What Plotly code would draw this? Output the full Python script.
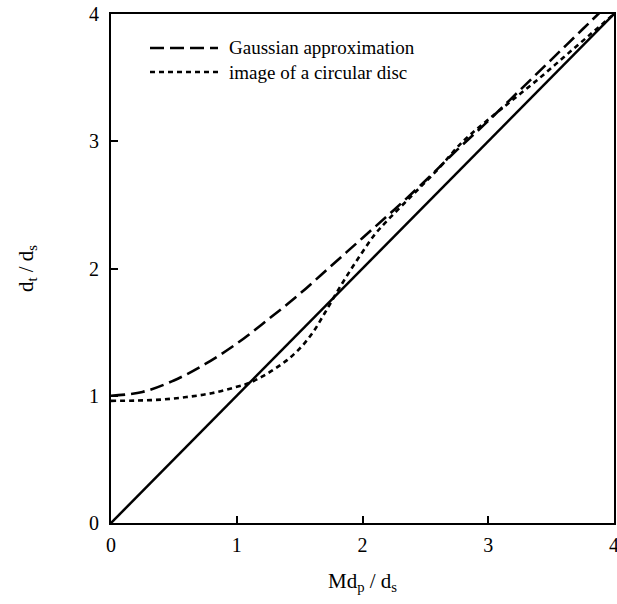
import plotly.graph_objects as go

# Data
x_line = [0, 4]
y_line = [0, 4]

x_gauss = [0, 0.25, 0.5, 0.75, 1.0, 1.25, 1.5, 1.75, 2.0, 2.25, 2.5, 2.75, 3.0, 3.25, 3.5, 3.75, 4.0]
y_gauss = [1.00, 1.03, 1.12, 1.25, 1.41, 1.60, 1.80, 2.02, 2.24, 2.46, 2.69, 2.93, 3.16, 3.40, 3.64, 3.88, 4.12]

x_disc = [0, 0.2, 0.4, 0.6, 0.8, 1.0, 1.1, 1.2, 1.3, 1.4, 1.5, 1.6, 1.7, 1.8, 1.9, 2.0, 2.1, 2.2,
          2.4, 2.6, 2.8, 3.0, 3.2, 3.4, 3.6, 3.8, 4.0]
y_disc = [0.96, 0.962, 0.97, 0.99, 1.02, 1.07, 1.10, 1.15, 1.21, 1.28, 1.37, 1.49, 1.65, 1.82, 1.98,
          2.13, 2.27, 2.38, 2.58, 2.78, 3.00, 3.17, 3.33, 3.49, 3.66, 3.83, 4.00]

tick_vals = [0, 1, 2, 3, 4]
legend_labels = ["Gaussian approximation", "image of a circular disc"]

FONT = "Liberation Serif"

fig = go.Figure()
fig.add_trace(go.Scatter(x=x_line, y=y_line, mode="lines",
                         line=dict(color="black", width=2.5), showlegend=False))
fig.add_trace(go.Scatter(x=x_gauss, y=y_gauss, mode="lines", line_shape="spline",
                         line=dict(color="black", width=2.6, dash="14px,6px"), showlegend=False))
fig.add_trace(go.Scatter(x=x_disc, y=y_disc, mode="lines", line_shape="spline",
                         line=dict(color="black", width=2.6, dash="5px,4px"), showlegend=False))

# Manual legend (keys in paper coordinates)
ML, MR, MT, MB = 111, 3, 14, 81
W0, H0 = 617 - ML - MR, 604 - MT - MB
def px(xp):
    return (xp - ML) / W0
def py(yp):
    return (604 - MB - yp) / H0

dashes = ["14px,6px", "5px,4px"]
rows = [48, 72]
for lab, d, r in zip(legend_labels, dashes, rows):
    fig.add_shape(type="line", xref="paper", yref="paper",
                  x0=px(150), x1=px(218), y0=py(r), y1=py(r),
                  line=dict(color="black", width=2.6, dash=d))
    fig.add_annotation(xref="paper", yref="paper", x=px(227), y=py(r),
                       text=lab, showarrow=False, xanchor="left", yanchor="middle",
                       font=dict(family=FONT, size=19, color="black"))

axis_common = dict(range=[0, 4], tickvals=tick_vals, ticks="inside", ticklen=7,
                   tickwidth=2, tickcolor="black", showline=True, linecolor="black",
                   linewidth=2.2, mirror=True, showgrid=False, zeroline=False,
                   automargin=False, ticklabeloverflow="allow",
                   tickfont=dict(family=FONT, size=20, color="black"))

fig.update_xaxes(**axis_common, ticklabelstandoff=3,
                 title=dict(text="Md<sub>p</sub> / d<sub>s</sub>", standoff=18,
                            font=dict(family=FONT, size=21, color="black")))
fig.update_yaxes(**axis_common, ticklabelstandoff=6,
                 title=dict(text="d<sub>t</sub> / d<sub>s</sub>", standoff=50,
                            font=dict(family=FONT, size=21, color="black")))

fig.update_layout(width=617, height=604, margin=dict(l=ML, r=MR, t=MT, b=MB),
                  plot_bgcolor="white", paper_bgcolor="white")

fig.write_html("out.html", config={"displayModeBar": False},
               post_script="document.body.style.margin='0';document.body.style.overflow='hidden';")
